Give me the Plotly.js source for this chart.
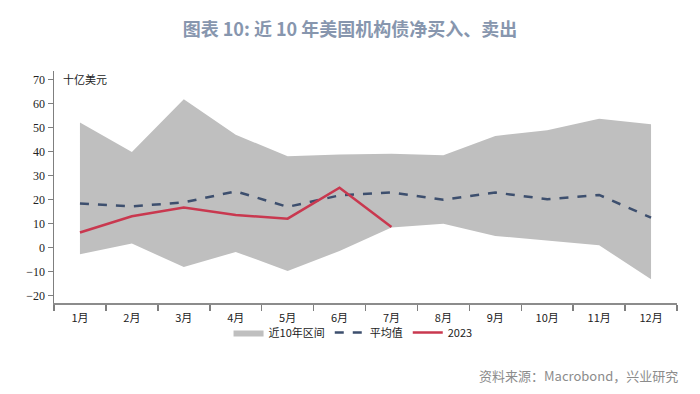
<!DOCTYPE html>
<html>
<head>
<meta charset="utf-8">
<script src="https://cdn.plot.ly/plotly-3.0.1.min.js"></script>
<style>html,body{margin:0;padding:0;background:#fff;}#chart{width:700px;height:394px;}</style>
</head>
<body>
<div id="chart"></div>
<script>
const months = ["1月","2月","3月","4月","5月","6月","7月","8月","9月","10月","11月","12月"];
const rangeHigh = [52.1, 39.8, 61.8, 47.0, 38.0, 38.8, 39.1, 38.4, 46.5, 48.9, 53.7, 51.4];
const rangeLow  = [-2.9, 1.6, -8.2, -1.9, -9.8, -1.5, 8.3, 9.9, 4.8, 3.0, 0.9, -13.3];
const avgValues = [18.3, 17.1, 18.8, 23.4, 16.9, 21.7, 22.9, 19.9, 22.9, 20.1, 21.9, 12.4];
const months2023 = ["1月","2月","3月","4月","5月","6月","7月"];
const values2023 = [6.2, 13.0, 16.6, 13.5, 12.0, 24.9, 8.5];
const yTicks = [-20, -10, 0, 10, 20, 30, 40, 50, 60, 70];

const traces = [
  {x: months, y: rangeLow, type: 'scatter', mode: 'lines', line: {width: 0, color: '#bfbfbf'}, showlegend: false, hoverinfo: 'skip'},
  {x: months, y: rangeHigh, type: 'scatter', mode: 'lines', fill: 'tonexty', fillcolor: '#bfbfbf', line: {width: 0, color: '#bfbfbf'}, name: '近10年区间'},
  {x: months, y: avgValues, type: 'scatter', mode: 'lines', line: {color: '#3d4f6e', width: 2.5, dash: 'dash'}, name: '平均值'},
  {x: months2023, y: values2023, type: 'scatter', mode: 'lines', line: {color: '#c9384f', width: 2.5}, name: '2023'}
];

const layout = {
  width: 700, height: 394,
  margin: {l: 54, r: 23, t: 71, b: 91},
  paper_bgcolor: '#ffffff', plot_bgcolor: '#ffffff',
  title: {text: '<b>图表 10: 近 10 年美国机构债净买入、卖出</b>', x: 0.5, xanchor: 'center', y: 0.925, yanchor: 'middle',
          font: {family: 'Noto Sans CJK SC, Noto Sans, sans-serif', size: 18, color: '#8796ae'}},
  xaxis: {type: 'category', range: [-0.5, 11.5], tickson: 'boundaries', ticks: 'outside', ticklen: 6, tickcolor: '#7f7f7f', tickwidth: 1.5,
          showline: true, linecolor: '#8c8c8c', linewidth: 2, showgrid: false, zeroline: false, ticklabelstandoff: 4,
          tickfont: {family: 'Noto Sans CJK SC, Liberation Serif, serif', size: 11, color: '#222'}, fixedrange: true},
  yaxis: {range: [-23.2, 73.6], tickvals: yTicks, ticks: 'outside', ticklen: 5, tickcolor: '#7f7f7f', tickwidth: 1,
          showline: true, linecolor: '#7f7f7f', linewidth: 1.5, showgrid: false, zeroline: false,
          tickfont: {family: 'Liberation Serif, serif', size: 12, color: '#222'}, fixedrange: true},
  legend: {orientation: 'h', traceorder: 'normal', x: 0.48, xanchor: 'center', y: -0.127, yanchor: 'middle',
           bgcolor: 'rgba(0,0,0,0)',
           font: {family: 'Noto Sans CJK SC, sans-serif', size: 11, color: '#222'}, itemwidth: 30, tracegroupgap: 0},
  annotations: [
    {text: '十亿美元', xref: 'paper', yref: 'paper', x: 0.012, xanchor: 'left', y: 0.965, yanchor: 'middle', showarrow: false,
     font: {family: 'Noto Sans CJK SC, sans-serif', size: 11, color: '#222'}},
    {text: '资料来源：Macrobond，兴业研究', xref: 'paper', yref: 'paper', x: 1.005, xanchor: 'right', y: -0.312, yanchor: 'middle', showarrow: false,
     font: {family: 'Noto Sans CJK SC, sans-serif', size: 13, color: '#8c8c8c'}}
  ],
  showlegend: true
};

Plotly.newPlot('chart', traces, layout, {displayModeBar: false, staticPlot: true});
</script>
</body>
</html>
